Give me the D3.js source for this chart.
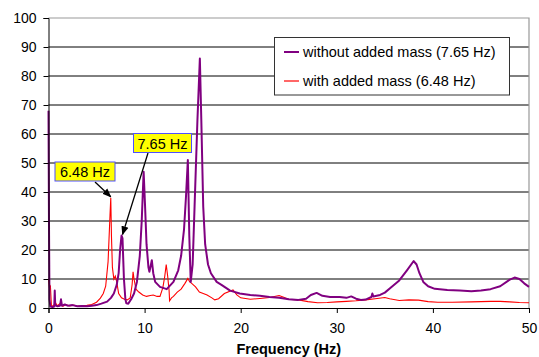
<!DOCTYPE html>
<html>
<head>
<meta charset="utf-8">
<script src="https://d3js.org/d3.v7.min.js"></script>
<style>
body { margin: 0; background: #fff; font-family: "Liberation Sans", Arial, sans-serif; }
svg text { fill: #000; }
</style>
</head>
<body>
<script>
// frequency (Hz) / amplitude
var freqWithout = [0,0.05,0.1,0.2,0.4,0.6,0.65,0.7,0.9,1.2,1.3,1.4,1.7,2,2.5,3,3.5,4,4.5,5,5.5,6.1,6.5,6.8,7.1,7.3,7.45,7.6,7.7,7.85,8,8.1,8.3,8.6,8.9,9.2,9.5,9.7,9.9,10.05,10.2,10.4,10.5,10.6,10.75,10.9,11.1,11.6,12.3,13,13.5,13.8,14.1,14.3,14.5,14.65,14.8,15,15.2,15.5,15.75,15.9,16.1,16.3,16.6,16.9,17.5,18,18.9,19.9,21,22,23,24,25,26,26.8,27.3,27.9,28.5,29.3,30.3,31,31.5,32,32.5,33,33.6,33.7,33.8,34.5,35,35.6,36.5,37.3,38,38.3,38.6,39,39.5,40.2,41.5,42.8,44,45,46,47,48,48.5,49,49.5,50];
var ampWithout = [68,30,3,0.5,0.3,0.5,6,1,0.6,0.8,3,0.8,1.2,0.8,1,0.6,0.7,0.6,0.8,1,1.5,2.2,3.5,5,8,12,20,25,24,10,3,1.6,1.5,3,5,9,18,30,47,35,22,14,12.5,14,16.5,12,9,7.3,6.5,9,13,18,27,38,51,25,9,15,35,65,86,65,35,22,15,12,9,8,6,5,4.5,4.2,3.8,3.5,3,2.8,3.2,4.5,5.2,4.2,3.8,3.8,3.5,4,3.2,2.8,2.9,3.8,5,4,4.5,5.3,7,9.5,13,16.2,15,12,9,7.5,6.6,6.2,6,5.8,6,6.5,7.5,9.8,10.5,10,8.5,7.3];

var freqWith = [0,0.1,0.2,0.3,0.5,0.7,0.9,1.2,1.5,1.8,2.2,2.6,3,3.5,4,4.5,5,5.4,5.7,5.95,6.2,6.4,6.48,6.55,6.65,6.8,6.95,7.1,7.3,7.6,7.9,8.2,8.5,8.7,8.8,8.9,9.1,9.4,9.8,10.2,10.6,10.9,11.3,11.6,11.9,12.1,12.25,12.4,12.55,12.6,12.8,13,13.4,13.8,14.2,14.5,14.7,14.9,15.3,15.7,16.1,16.5,17,17.3,17.7,18.3,19.2,19.6,20,21,22,23,24,24.4,25,26,27,28,29,30,31,32,33,34,35,35.5,36.5,37.5,38.5,39.5,40.5,42,44,46,47,48,49,50];
var ampWith = [10,7,7.5,1,0.5,2,0.8,1.5,0.6,1.2,0.7,1,0.6,0.8,0.9,1.2,2,3.4,5,7.5,16,32,38,25,14,10,11,9,5,3.5,3,2.8,3.5,8,12.5,10,6.5,5.5,4.5,4,4.3,4.5,4,4,7,11,15,11,6,2.5,3.5,4,5.5,6.5,8.5,10.2,9,8.5,7.3,5.5,5,4.5,3.5,2.8,3.2,5,6.2,4.5,3.5,3,3.3,3.6,4.3,3.8,3,2.8,2.2,1.8,1.9,2.1,2.3,2.5,2.8,3.2,3.6,3.2,2.6,2.8,2.7,2.2,2,2,2.1,2.3,2.3,2.1,1.9,1.8];

var xTicks = [0,10,20,30,40,50];
var yTicks = [0,10,20,30,40,50,60,70,80,90,100];
var seriesNames = ["without added mass (7.65 Hz)", "with added mass (6.48 Hz)"];
var seriesColors = ["#800080", "#ff0000"];

var width = 539, height = 357;
var m = { left: 48.5, right: 529, top: 18, bottom: 308 };

var svg = d3.select("body").append("svg")
  .attr("width", width).attr("height", height);

var x = d3.scaleLinear().domain([0, 50]).range([m.left, m.right]);
var y = d3.scaleLinear().domain([0, 100]).range([m.bottom, m.top]);

// gridlines
svg.append("g").selectAll("line")
  .data(yTicks.slice(1, -1))
  .enter().append("line")
  .attr("x1", m.left).attr("x2", m.right)
  .attr("y1", function(d) { return y(d); })
  .attr("y2", function(d) { return y(d); })
  .attr("stroke", "#000").attr("stroke-width", 1);

// top and right border
svg.append("path")
  .attr("d", "M" + m.left + "," + y(100) + "H" + m.right + "V" + m.bottom)
  .attr("fill", "none").attr("stroke", "#999").attr("stroke-width", 1.2);

var line = d3.line()
  .x(function(d) { return x(d[0]); })
  .y(function(d) { return y(d[1]); });

svg.append("path")
  .datum(d3.zip(freqWith, ampWith))
  .attr("d", line)
  .attr("fill", "none").attr("stroke", seriesColors[1]).attr("stroke-width", 1.1);

svg.append("path")
  .datum(d3.zip(freqWithout, ampWithout))
  .attr("d", line)
  .attr("fill", "none").attr("stroke", seriesColors[0]).attr("stroke-width", 2)
  .attr("stroke-linejoin", "round");

// axes
var yAxis = svg.append("g")
  .attr("transform", "translate(" + m.left + ",0)")
  .call(d3.axisLeft(y).tickValues(yTicks).tickSize(5).tickPadding(7));
var xAxis = svg.append("g")
  .attr("transform", "translate(0," + m.bottom + ")")
  .call(d3.axisBottom(x).tickValues(xTicks).tickSize(5).tickPadding(10));
[xAxis, yAxis].forEach(function(a) {
  a.selectAll("path, line").attr("stroke", "#000");
  a.selectAll("text").attr("font-size", "14px")
    .attr("font-family", "Liberation Sans, Arial, sans-serif").attr("fill", "#000");
});

svg.append("text")
  .attr("x", (m.left + m.right) / 2).attr("y", 354)
  .attr("text-anchor", "middle")
  .attr("font-size", "14.5px").attr("font-weight", "bold")
  .text("Frequency (Hz)");

// legend
var lg = svg.append("g");
lg.append("rect")
  .attr("x", 274.5).attr("y", 37.5).attr("width", 235).attr("height", 57.5)
  .attr("fill", "#fff").attr("stroke", "#333");
seriesNames.forEach(function(n, i) {
  var ly = 52 + i * 29;
  lg.append("line")
    .attr("x1", 284).attr("x2", 299).attr("y1", ly).attr("y2", ly)
    .attr("stroke", seriesColors[i]).attr("stroke-width", i == 0 ? 2 : 1.2);
  lg.append("text")
    .attr("x", 303).attr("y", ly + 5)
    .attr("font-size", "14.5px")
    .text(n);
});

// annotations
var notes = [
  { label: "6.48 Hz", bx: 55, by: 162, bw: 60, bh: 19, f: 6.48, a: 38, fx: 95, fy: 182, dx: 0 },
  { label: "7.65 Hz", bx: 133.5, by: 133.5, bw: 58, bh: 19, f: 7.6, a: 25, fx: 148, fy: 153, dx: 1 }
];
svg.append("defs").append("marker")
  .attr("id", "arr").attr("viewBox", "0 0 10 10")
  .attr("refX", 9).attr("refY", 5)
  .attr("markerWidth", 7).attr("markerHeight", 7)
  .attr("orient", "auto")
  .append("path").attr("d", "M0,1L10,5L0,9Z").attr("fill", "#000");
notes.forEach(function(n) {
  svg.append("line")
    .attr("x1", n.fx).attr("y1", n.fy)
    .attr("x2", x(n.f) + n.dx).attr("y2", y(n.a) - 1)
    .attr("stroke", "#000").attr("stroke-width", 1.3)
    .attr("marker-end", "url(#arr)");
  svg.append("rect")
    .attr("x", n.bx).attr("y", n.by).attr("width", n.bw).attr("height", n.bh)
    .attr("fill", "#ffff00").attr("stroke", "#4f4fff").attr("stroke-width", 1);
  svg.append("text")
    .attr("x", n.bx + n.bw / 2).attr("y", n.by + 15)
    .attr("text-anchor", "middle")
    .attr("font-size", "14.5px")
    .text(n.label);
});
</script>
</body>
</html>
